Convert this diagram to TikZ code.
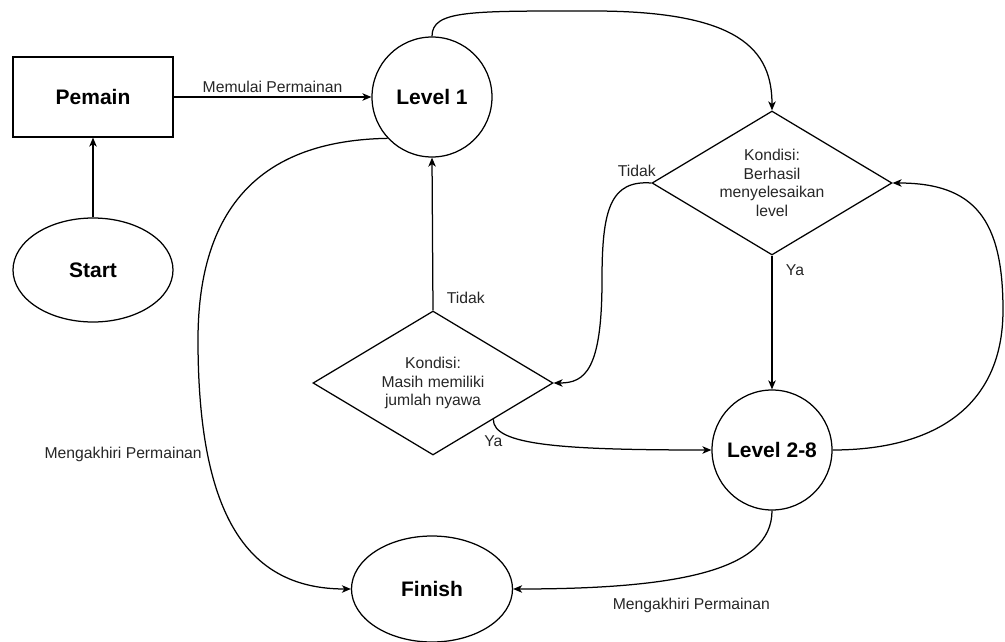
\documentclass[tikz,border=0pt]{standalone}
\usepackage{fontspec}
\setmainfont{Liberation Sans}
\usetikzlibrary{positioning}
\usetikzlibrary{arrows.meta}
\usetikzlibrary{shapes.geometric}
\newcommand{\bigfont}{\fontsize{21}{24}\selectfont\bfseries}
\newcommand{\lblfont}{\fontsize{15.7}{18.5}\selectfont}
\tikzset{
  flow/.style={-{Stealth[length=9pt, width=7.5pt, inset=2.5pt]}, line width=1.25pt},
  lbl/.style={font=\lblfont, text=black!85},
  box/.style={draw=black, line width=1.25pt, inner sep=0pt, font=\bigfont},
  cond/.style={shape=diamond, draw=black, line width=1.25pt, aspect=1.667, inner sep=0pt,
    minimum width=240pt, minimum height=144pt, align=center, font=\lblfont, text=black!85},
}

\begin{document}
\begin{tikzpicture}[x=1pt,y=-1pt]
    \useasboundingbox (0,0) rectangle (1005,642);

    \node[box,shape=rectangle,minimum width=160pt,minimum height=80pt] (Pemain) at (93,97) {Pemain};
    \node[box,shape=ellipse,minimum width=160pt,minimum height=104pt] (Start) at (93,270) {Start};
    \node[box,shape=circle,minimum size=120pt] (Lvl_1) at (432,97) {Level 1};
    \node[box,shape=circle,minimum size=120pt] (Lvl_N) at (772,450) {Level 2-8};
    \node[box,shape=ellipse,minimum width=161pt,minimum height=106pt] (Finish) at (432,589) {Finish};
    \node[cond] (Cond_W) at (772,183) {Kondisi:\\Berhasil\\menyelesaikan\\level};
    \node[cond] (Cond_L) at (433,383) {Kondisi:\\Masih memiliki\\jumlah nyawa};

    \draw [flow] (Start.north) -- (Pemain.south);
    \draw [flow] (Pemain.east) -- node[lbl,above=0pt] {Memulai Permainan} (Lvl_1.west);

    \draw [flow] (Lvl_1.north) .. controls (432,10) and (470,11) .. (593,11)
        .. controls (740,11) and (772,50) .. (Cond_W.north);
    \draw [flow] (Cond_W.south) -- node[lbl,pos=0.11,right=10pt] {Ya} (Lvl_N.north);
    \draw [flow] (Lvl_N.east) .. controls (930,450) and (1003,410) .. (1003,310)
        .. controls (1003,220) and (975,183) .. (Cond_W.east);

    \draw [flow] (Cond_W.west) node[lbl,anchor=south east,inner sep=1pt,xshift=6pt,yshift=5pt] {Tidak}
        .. controls (610,180) and (602,210) .. (602,280)
        .. controls (602,370) and (585,383) .. (Cond_L.east);
    \draw [flow] (Cond_L.north) -- node[lbl,pos=0.08,right=10pt] {Tidak} (Lvl_1.south);
    \draw [flow] (Cond_L.south east) node[lbl,below=12pt] {Ya}
        .. controls (493,445) and (560,450) .. (Lvl_N.west);

    \draw [flow] (Lvl_1.223) .. controls (290,140) and (198,180) .. (198,340)
        .. controls (198,520) and (250,589) .. node[lbl,pos=0.25,left=2pt] {Mengakhiri Permainan} (Finish.west);
    \draw [flow] (Lvl_N.south) .. controls (772,570) and (680,589) ..
        node[lbl,pos=0.55,below=19pt] {Mengakhiri Permainan} (Finish.east);
\end{tikzpicture}
\end{document}
